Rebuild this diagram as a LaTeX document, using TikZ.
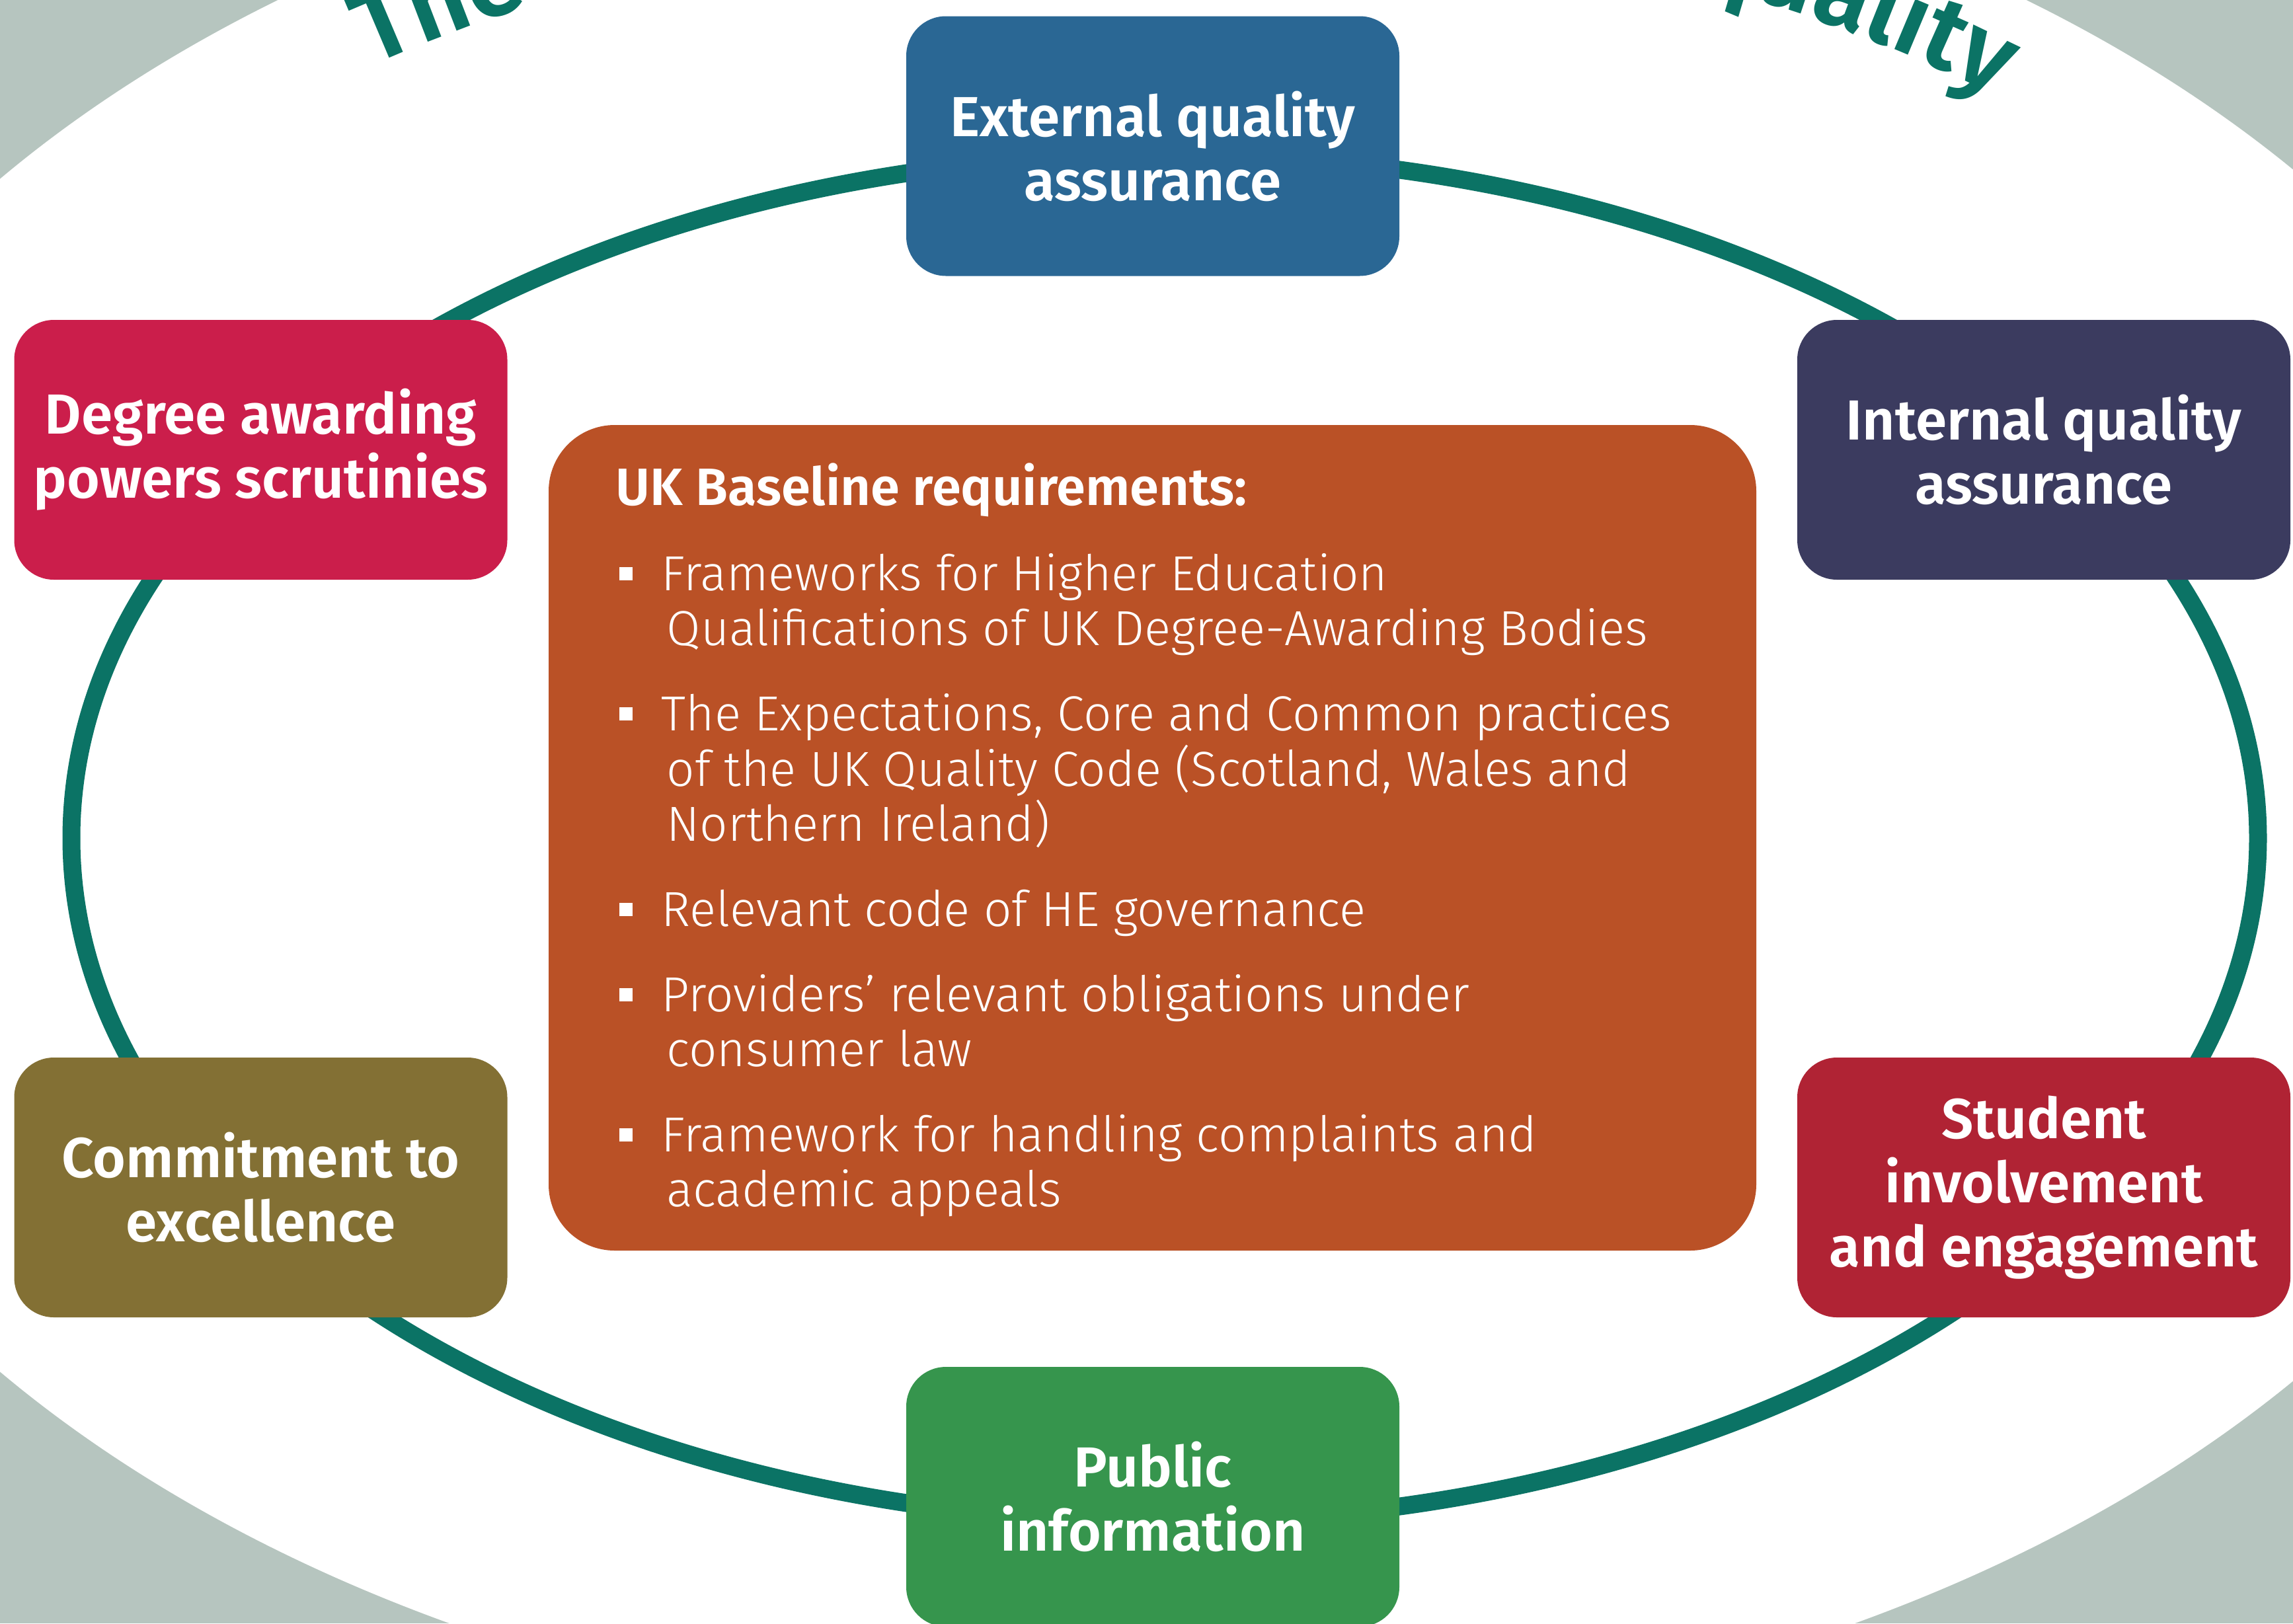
\documentclass[tikz,border=0pt]{standalone}
\usepackage{fontspec}
\setmainfont{Fira Sans}
\newfontfamily\boxfont{Fira Sans SemiBold}
\newfontfamily\bodyfont{Fira Sans Light}
\usepackage{tikz}
\usetikzlibrary{shapes,decorations.text}

\definecolor{bggray}{HTML}{B6C5BF}
\definecolor{ringteal}{HTML}{0B7365}
\definecolor{extblue}{HTML}{2A6794}
\definecolor{degred}{HTML}{CB1E4B}
\definecolor{intnavy}{HTML}{3B3B5F}
\definecolor{comolive}{HTML}{837034}
\definecolor{stured}{HTML}{B02334}
\definecolor{pubgreen}{HTML}{36954D}
\definecolor{coreorange}{HTML}{BA5126}

\newcommand{\sqbul}{\makebox[0.69cm][l]{\hspace{0.05cm}\rule[0.15cm]{0.2cm}{0.2cm}}}

\begin{document}
\begin{tikzpicture}
 	\def \colleft{3.945}
 	\def \colmid{17.44}
 	\def \colright{30.92}
 	\def \rowone{-6.805}
 	\def \rowtwo{-17.965}
 	\def \rowgap{0.45cm}
 	\tikzstyle{q-box}=[rectangle,rounded corners=0.6cm,inner sep=0pt,minimum width=7.46cm,minimum height=3.93cm,text=white,align=center,font=\boxfont\fontsize{24.3}{27.6}\selectfont]
 	\tikzstyle{core-box}=[rectangle,rounded corners=1cm,inner sep=0pt,minimum width=18.27cm,minimum height=12.49cm,fill=coreorange]
 	\tikzstyle{req-text}=[inner sep=0pt,text=white,align=left,font=\bodyfont\fontsize{21.2}{23.8}\selectfont]
 	\tikzstyle{arc-text}=[decorate,decoration={text along path,text={|\boxfont\fontsize{44}{50}\selectfont\color{ringteal}|#1}}]
 	\useasboundingbox (0,0) rectangle (34.69,-24.56);
 	\clip (0,0) rectangle (34.69,-24.56);
 	% background
 	\fill[bggray] (0,0) rectangle (34.69,-24.56);
 	\fill[white] (17.43,-11.73) ellipse [x radius=22.15,y radius=14.62];
 	% title along the edge
 	\path[arc-text=The] (17.43,-11.73) ++(125:20.6 and 13.1) arc [start angle=125,end angle=95,x radius=20.6,y radius=13.1];
 	\path[arc-text=quality] (17.43,-11.73) ++(66.6:20.6 and 13.1) arc [start angle=66.6,end angle=20,x radius=20.6,y radius=13.1];
 	% ring
 	\draw[ringteal,line width=0.27cm] (17.62,-12.68) ellipse [x radius=16.54,y radius=10.35];
 	% centre
 	\node[core-box] (core) at (17.435,-12.675) {};
 	\node[req-text,anchor=north west] (reqs) at (9.31,-7.0)
 		{{\boxfont\fontsize{22.6}{26}\selectfont UK Baseline requirements:}\\[\rowgap]
 		\sqbul Frameworks for Higher Education\\
 		\hspace*{0.77cm}Qualifications of UK Degree-Awarding Bodies\\[\rowgap]
 		\sqbul The Expectations, Core and Common practices\\
 		\hspace*{0.77cm}of the UK Quality Code (Scotland, Wales and\\
 		\hspace*{0.77cm}Northern Ireland)\\[\rowgap]
 		\sqbul Relevant code of HE governance\\[\rowgap]
 		\sqbul Providers’ relevant obligations under\\
 		\hspace*{0.77cm}consumer law\\[\rowgap]
 		\sqbul Framework for handling complaints and\\
 		\hspace*{0.77cm}academic appeals};
 	% boxes round the ring
 	\node[q-box,fill=extblue]	(ext-qa)	at (\colmid,-2.21)		{External quality\\assurance};
 	\node[q-box,fill=degred]	(dap)		at (\colleft,\rowone)	{Degree awarding\\powers scrutinies};
 	\node[q-box,fill=intnavy]	(int-qa)	at (\colright,\rowone)	{Internal quality\\assurance};
 	\node[q-box,fill=comolive]	(commit)	at (\colleft,\rowtwo)	{Commitment to\\excellence};
 	\node[q-box,fill=stured]	(student)	at (\colright,\rowtwo)	{Student\\involvement\\and engagement};
 	\node[q-box,fill=pubgreen]	(pub-info)	at (\colmid,-22.645)	{Public\\information};
\end{tikzpicture}
\end{document}
